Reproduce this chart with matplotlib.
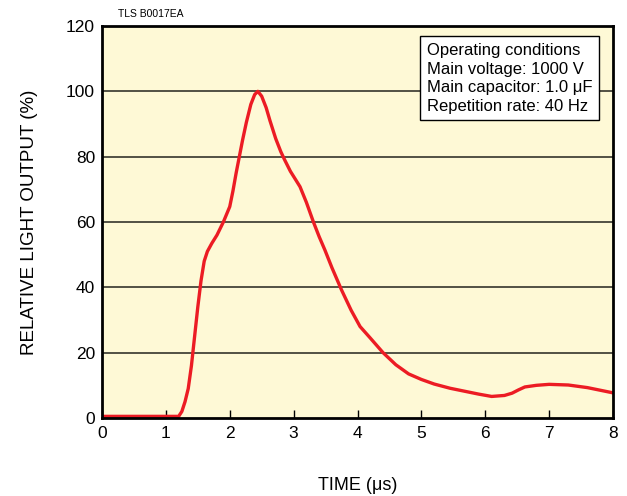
import matplotlib.pyplot as plt
import matplotlib as mpl

mpl.rcParams.update({
    "font.family": "sans-serif",
    "font.sans-serif": ["Liberation Sans", "DejaVu Sans"],
})

# light output pulse
time_us = [0.0, 0.5, 1.0, 1.2, 1.25, 1.3, 1.35, 1.4, 1.45, 1.5, 1.55, 1.6,
           1.65, 1.72, 1.8, 1.9, 2.0, 2.05, 2.1, 2.15, 2.2, 2.26, 2.33, 2.39,
           2.44, 2.5, 2.57, 2.63, 2.72, 2.8, 2.86, 2.95, 3.03, 3.1, 3.2, 3.31,
           3.4, 3.49, 3.6, 3.75, 3.9, 4.04, 4.19, 4.4, 4.6, 4.8, 5.0, 5.2,
           5.45, 5.7, 5.9, 6.1, 6.3, 6.42, 6.52, 6.62, 6.8, 7.0, 7.3, 7.6, 8.0]
light_pct = [0.5, 0.5, 0.5, 0.5, 2, 5, 9, 16, 25, 34, 42, 48,
             51, 53.5, 56, 60, 64.7, 69.5, 75, 80, 85, 90.5, 96, 99,
             100, 98.5, 95, 91, 85.5, 81.5, 79, 75.5, 73, 70.8, 66, 60,
             55.5, 51.4, 46, 39.2, 33, 28, 24.7, 20, 16.3, 13.5, 11.8, 10.4,
             9.1, 8.1, 7.3, 6.6, 6.9, 7.6, 8.6, 9.5, 10.0, 10.3, 10.1, 9.3, 7.7]

x_ticks = [0, 1, 2, 3, 4, 5, 6, 7, 8]
y_ticks = [0, 20, 40, 60, 80, 100, 120]

conditions = ["Operating conditions",
              "Main voltage: 1000 V",
              "Main capacitor: 1.0 \u03bcF",
              "Repetition rate: 40 Hz"]

fig = plt.figure(figsize=(6.27, 4.96), dpi=100)
ax = fig.add_axes([102 / 627, 78 / 496, 511 / 627, 392 / 496])
ax.set_facecolor("#fef9d6")

for v in y_ticks[1:-1]:
    ax.axhline(v, color="#35352c", lw=1.2, zorder=1)

ax.plot(time_us, light_pct, color="#ec1c24", lw=2.4, zorder=3,
        solid_capstyle="round", solid_joinstyle="round")

ax.set_xlim(0, 8)
ax.set_ylim(0, 120)
ax.set_xticks(x_ticks)
ax.set_yticks(y_ticks)
ax.tick_params(axis="x", direction="in", length=6, width=1, pad=6,
               labelsize=12.5, color="black")
ax.tick_params(axis="y", length=0, pad=5, labelsize=12.5)
for s in ax.spines.values():
    s.set_linewidth(2)
    s.set_color("black")
    s.set_zorder(4)

ax.set_xlabel("TIME (\u03bcs)", fontsize=13, labelpad=26)
ax.set_ylabel("RELATIVE LIGHT OUTPUT (%)", fontsize=13.5, labelpad=20)

ax.text(427 / 627, (496 - 43) / 496, "\n".join(conditions),
        transform=fig.transFigure, fontsize=12, va="top", ha="left",
        linespacing=1.3, zorder=6,
        bbox=dict(boxstyle="square,pad=0.4", fc="white", ec="black", lw=1))

fig.text(118 / 627, (496 - 14) / 496, "TLS B0017EA", fontsize=7.5,
         ha="left", va="center")

fig.savefig("out.png", dpi=100)
